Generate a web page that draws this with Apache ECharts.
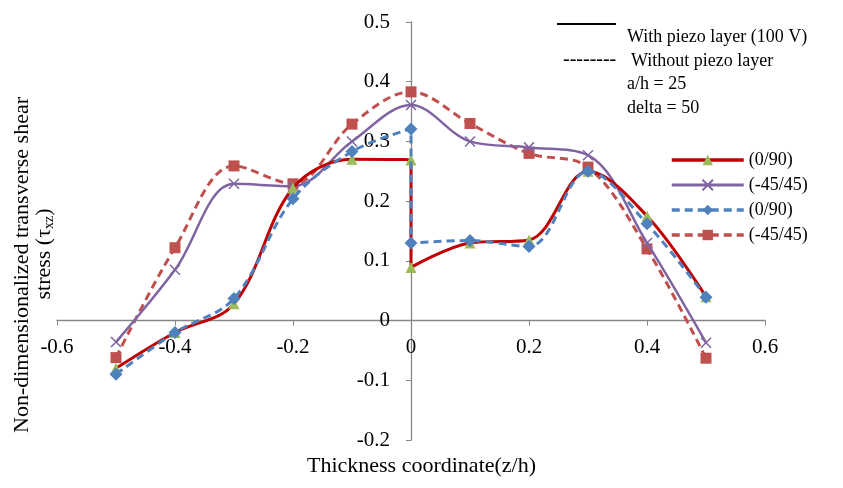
<!DOCTYPE html>
<html>
<head>
<meta charset="utf-8">
<script src="https://cdn.jsdelivr.net/npm/echarts@6/dist/echarts.min.js"></script>
<style>
html,body{margin:0;padding:0;background:#fff;}
#chart{width:843px;height:488px;}
</style>
</head>
<body>
<div id="chart"></div>
<script>
// z/h coordinates (two points at z = 0 for the interface jump)
var zRed = [-0.5, -0.4, -0.3, -0.2, -0.1, 0, 0, 0.1, 0.2, 0.3, 0.4, 0.5];
var vRed = [-0.08, -0.02, 0.028, 0.222, 0.27, 0.269, 0.089, 0.13, 0.135, 0.25, 0.175, 0.04];

var zPurple = [-0.5, -0.4, -0.3, -0.2, -0.1, 0, 0.1, 0.2, 0.3, 0.4, 0.5];
var vPurple = [-0.036, 0.085, 0.229, 0.225, 0.30, 0.361, 0.30, 0.29, 0.277, 0.13, -0.037];

var zBlue = [-0.5, -0.4, -0.3, -0.2, -0.1, 0, 0, 0.1, 0.2, 0.3, 0.4, 0.5];
var vBlue = [-0.09, -0.02, 0.037, 0.204, 0.283, 0.321, 0.13, 0.134, 0.124, 0.25, 0.162, 0.039];

var zDRed = [-0.5, -0.4, -0.3, -0.2, -0.1, 0, 0.1, 0.2, 0.3, 0.4, 0.5];
var vDRed = [-0.062, 0.122, 0.259, 0.229, 0.329, 0.383, 0.33, 0.28, 0.257, 0.12, -0.063];

var seriesNames = ['(0/90)', '(-45/45)', '(0/90) ', '(-45/45) '];
var xTicks = {min: -0.6, max: 0.6, step: 0.2};
var yTicks = {min: -0.2, max: 0.5, step: 0.1};

function pairs(z, v) { return z.map(function (x, i) { return [x, v[i]]; }); }

var font = 'Liberation Serif';
var axisColor = '#868686';

var gridL = 57, gridR = 78, gridT = 22, gridB = 48, W = 843, H = 488;
var plotW = W - gridL - gridR, plotH = H - gridT - gridB;
// shift axes so that they cross at the origin
var xOff = -plotH * (0 - yTicks.min) / (yTicks.max - yTicks.min);
var yOff = -plotW * (0 - xTicks.min) / (xTicks.max - xTicks.min);

function fmt(v) { return Math.abs(v) < 1e-9 ? '0' : (Math.round(v * 10) / 10).toString(); }

var chart = echarts.init(document.getElementById('chart'));
chart.setOption({
  animation: false,
  backgroundColor: '#fff',
  textStyle: {fontFamily: font},
  grid: {left: gridL, right: gridR, top: gridT, bottom: gridB},
  xAxis: {
    type: 'value', min: xTicks.min, max: xTicks.max, interval: xTicks.step,
    position: 'bottom', offset: xOff,
    axisLine: {onZero: false, lineStyle: {color: axisColor, width: 1.3}},
    axisTick: {show: true, length: 5, lineStyle: {color: axisColor}},
    splitLine: {show: false},
    axisLabel: {color: '#000', fontSize: 21, fontFamily: font, margin: 16, formatter: fmt}
  },
  yAxis: {
    type: 'value', min: yTicks.min, max: yTicks.max, interval: yTicks.step,
    position: 'left', offset: yOff,
    axisLine: {show: true, onZero: false, lineStyle: {color: axisColor, width: 1.3}},
    axisTick: {show: true, length: 5, lineStyle: {color: axisColor}},
    splitLine: {show: false},
    axisLabel: {color: '#000', fontSize: 21, fontFamily: font, margin: 21, formatter: fmt}
  },
  legend: {
    orient: 'vertical', left: 665, top: 146, itemGap: 7,
    itemWidth: 72, itemHeight: 13,
    textStyle: {fontSize: 18, fontFamily: font, color: '#000'},
    formatter: function (n) { return n.trim(); },
    data: [
      {name: seriesNames[0], lineStyle: {width: 3.5}},
      {name: seriesNames[1], lineStyle: {width: 3}},
      {name: seriesNames[2], lineStyle: {width: 3.5}},
      {name: seriesNames[3], lineStyle: {width: 3.5}}
    ]
  },
  series: [
    {
      name: seriesNames[0], type: 'line', smooth: 0.35,
      data: pairs(zRed, vRed),
      symbol: 'triangle', symbolSize: 11,
      itemStyle: {color: '#9bbb59', borderWidth: 0},
      lineStyle: {color: '#c00000', width: 3},
      z: 3
    },
    {
      name: seriesNames[1], type: 'line', smooth: 0.35,
      data: pairs(zPurple, vPurple),
      symbol: 'path://M0,0 L10,10 M10,0 L0,10', symbolSize: 10,
      itemStyle: {color: '#8064a2', borderColor: '#8064a2', borderWidth: 1.5},
      lineStyle: {color: '#8064a2', width: 2.5},
      z: 2
    },
    {
      name: seriesNames[2], type: 'line', smooth: 0.35,
      data: pairs(zBlue, vBlue),
      symbol: 'diamond', symbolSize: 13,
      itemStyle: {color: '#4f81bd', borderWidth: 0},
      lineStyle: {color: '#4f81bd', width: 3, type: [8, 5]},
      z: 4
    },
    {
      name: seriesNames[3], type: 'line', smooth: 0.35,
      data: pairs(zDRed, vDRed),
      symbol: 'rect', symbolSize: 11,
      itemStyle: {color: '#c0504d', borderWidth: 0},
      lineStyle: {color: '#c0504d', width: 3, type: [8, 5]},
      z: 1
    }
  ],
  graphic: [
    {type: 'line', shape: {x1: 557, y1: 24, x2: 616, y2: 24}, style: {stroke: '#000', lineWidth: 2}},
    {type: 'text', left: 627, top: 28, style: {text: 'With piezo layer (100 V)', font: '18px "Liberation Serif"', fill: '#000'}},
    {type: 'text', left: 563, top: 50, style: {text: '--------', font: '20px "Liberation Serif"', fill: '#000'}},
    {type: 'text', left: 631, top: 52, style: {text: 'Without piezo layer', font: '18px "Liberation Serif"', fill: '#000'}},
    {type: 'text', left: 627, top: 75, style: {text: 'a/h = 25', font: '18px "Liberation Serif"', fill: '#000'}},
    {type: 'text', left: 627, top: 99, style: {text: 'delta = 50', font: '18px "Liberation Serif"', fill: '#000'}},
    {type: 'text', left: 'center', top: 455, style: {text: 'Thickness coordinate(z/h)', font: '22px "Liberation Serif"', fill: '#000'}},
    {type: 'text', x: 22, y: 265, rotation: Math.PI / 2,
      style: {text: 'Non-dimensionalized transverse shear', font: '22px "Liberation Serif"', fill: '#000', align: 'center', verticalAlign: 'middle'}},
    {type: 'text', x: 44, y: 254, rotation: Math.PI / 2,
      style: {text: 'stress (τ{sub|xz})', font: '22px "Liberation Serif"', fill: '#000', align: 'center', verticalAlign: 'middle',
        rich: {sub: {fontSize: 14, fontFamily: font, verticalAlign: 'bottom', padding: [10, 0, 0, 0]}}}}
  ]
});
</script>
</body>
</html>
